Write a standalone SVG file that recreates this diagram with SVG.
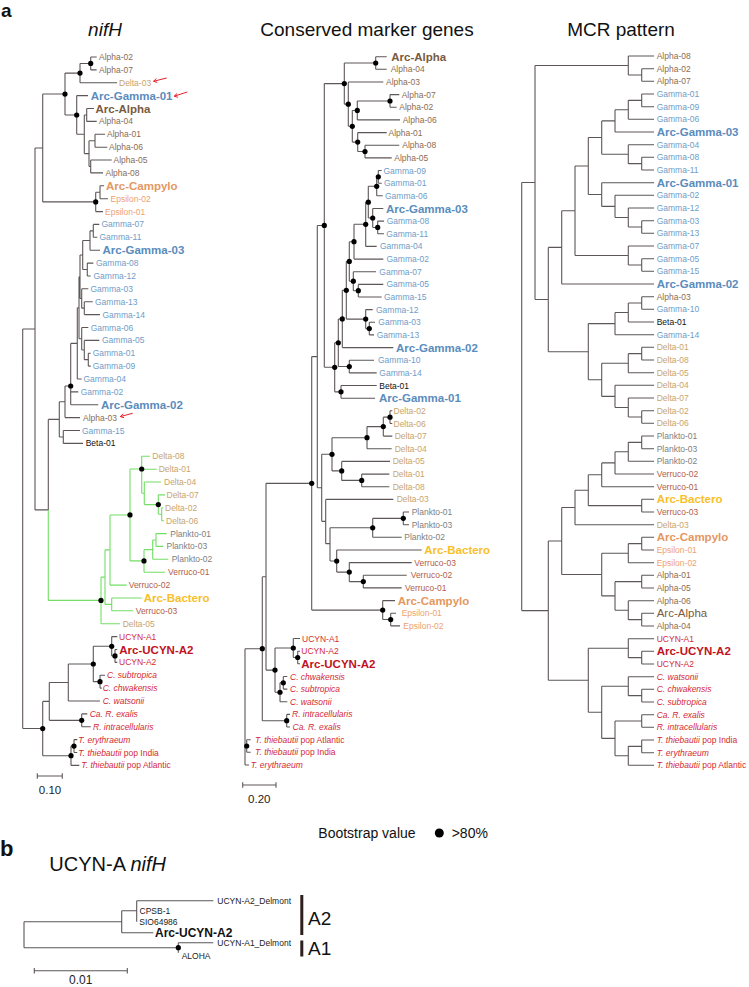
<svg xmlns="http://www.w3.org/2000/svg" width="749" height="987" viewBox="0 0 749 987">
<style>
text{font-family:"Liberation Sans",Arial,sans-serif;}
.t{font-size:8.5px;dominant-baseline:central}
.b{font-size:11.5px;font-weight:bold;dominant-baseline:central}
.r{font-size:11.5px;dominant-baseline:central}
.i{font-style:italic}
.br{fill:none;stroke:#5e5757;stroke-width:1.1}
.gn{fill:none;stroke:#74de66;stroke-width:1.1}
.dot{fill:#000}
.arr{fill:none;stroke:#e8202a;stroke-width:1}
.al{fill:#8d6c52}.alb{fill:#7a5a40}.de{fill:#c9a46c}.ga{fill:#6f9dc8}.gab{fill:#5a8cbc}
.ep{fill:#eda272}.epb{fill:#e4985f}.be{fill:#111}.pl{fill:#808080}.ve{fill:#b45d49}
.ba{fill:#f7c02a}.cy{fill:#d42a35}.cyb{fill:#c0121e}.k{fill:#222}
.title{font-size:19px;fill:#111;text-anchor:middle}
</style>
<rect width="749" height="987" fill="#fff"/>
<text x="1" y="17" style="font-size:19px;font-weight:bold" fill="#111">a</text>
<text x="105" y="35.5" class="title i">nifH</text>
<text x="367" y="35.5" class="title">Conserved marker genes</text>
<text x="621" y="35.5" class="title">MCR pattern</text>

<g id="connectors">
<g id="nifH-edges">
<path class="br" d="M22.7,328.95V728.55M22.7,328.95H35M22.7,728.55H42.7M35,148V509.9M35,148H42.7M35,509.9H48.3M42.7,94.05V201.9M42.7,94.05H65M42.7,201.9H95.7M65,73.1V115M65,73.1H80M65,115H76.7M80,63.45V82.8M80,63.45H90.7M80,82.8H117M90.7,57V69.9M90.7,57H96.7M90.7,69.9H96.7M76.7,95.6V134.3M76.7,95.6H88M76.7,134.3H84.3M84.3,115V153.6M84.3,115H86.7M84.3,153.6H89M86.7,108.5V121.4M86.7,108.5H94M86.7,121.4H96.7M89,140.75V166.45M89,140.75H95M89,166.45H90.7M95,134.3V147.2M95,134.3H105M95,147.2H107.3M90.7,160V172.9M90.7,160H111.7M90.7,172.9H103M95.7,192.25V211.6M95.7,192.25H100M95.7,211.6H103M100,185.8V198.7M100,185.8H104M100,198.7H108M48.3,419.4V509.9M48.3,419.4H59.3M59.3,401.8V436.95M59.3,401.8H65M59.3,436.95H63.3M63.3,430.5V443.4M63.3,430.5H80M63.3,443.4H83M65,386V417.6M65,386H70.7M65,417.6H80M70.7,343.4V404.8M70.7,343.4H77.3M70.7,391.9H78.3M70.7,404.8H98.3M77.3,307.75V379M77.3,307.75H79M77.3,379H81.7M79,276.75V338.75M79,276.75H80M79,338.75H81.7M80,255V298.5M80,255H82.7M80,298.5H81.7M82.7,240.5V269.55M82.7,240.5H90M82.7,269.55H87.3M90,230.85V250.2M90,230.85H93.3M90,250.2H100M93.3,224.4V237.3M93.3,224.4H99.3M93.3,237.3H97.3M87.3,263.1V276M87.3,263.1H93.3M87.3,276H90.7M81.7,288.8V308.15M81.7,288.8H88.3M81.7,308.15H84.3M84.3,301.7V314.6M84.3,301.7H92.7M84.3,314.6H100M81.7,327.5V350M81.7,327.5H88.3M81.7,350H84.3M84.3,340.4V359.65M84.3,340.4H99.3M84.3,359.65H88.3M88.3,353.2V366.1M88.3,353.2H90.7M88.3,366.1H90.7M42.7,701.4V755.7M42.7,701.4H49.3M42.7,755.7H71M49.3,682.5V720.35M49.3,682.5H68.3M49.3,720.35H81.7M68.3,664V701M68.3,664H93.3M68.3,701H100M93.3,646.3V681.65M93.3,646.3H111.7M93.3,681.65H100M111.7,636.6V655.95M111.7,636.6H117.3M111.7,655.95H115M115,649.5V662.4M115,649.5H117.3M115,662.4H117.3M100,675.2V688.1M100,675.2H105M100,688.1H101.7M81.7,713.9V726.8M81.7,713.9H87.3M81.7,726.8H90.7M71,746.05V765.4M71,746.05H74M71,765.4H79.3M74,739.6V752.5M74,739.6H77.3M74,752.5H77.3"/>
<path class="gn" d="M48.3,509.9V600.4M48.3,600.4H101M101,577.1V623.7M101,577.1H105M101,623.7H120M105,549.85V604.4M105,549.85H110M105,604.4H111.7M111.7,598V610.8M111.7,598H141.7M111.7,610.8H133.3M110,514.95V585.1M110,514.95H130M110,585.1H126.7M130,469V560.9M130,469H141.7M130,560.9H144M141.7,456.3V493.3M141.7,456.3H150M141.7,469.2H156.7M141.7,493.3H144.3M144.3,482V504.6M144.3,482H161M144.3,504.6H158.3M158.3,494.9V514.25M158.3,494.9H165M158.3,514.25H161.7M161.7,507.8V520.7M161.7,507.8H163.3M161.7,520.7H164M144,549.65V572.2M144,549.65H152.7M144,572.2H165M152.7,540V559.3M152.7,540H156M152.7,559.3H168.3M156,533.6V546.4M156,533.6H166.7M156,546.4H163.3"/>
<path class="br" d="M37.3,776H62.3M37.3,773.3V778.7M62.3,773.3V778.7"/>
<path class="arr" d="M166.7,78L153.5,81.3M153.5,81.3l3.8,1.1M153.5,81.3l2.9,-2.8M187.3,92L174.2,96.2M174.2,96.2l3.8,1.1M174.2,96.2l2.9,-2.8M132.7,413.3L120.3,416.6M120.3,416.6l3.8,1.1M120.3,416.6l2.9,-2.8"/>
</g>
<g id="marker-edges">
<path class="br" d="M245,648.7V765M245,648.7H262.3M245,746H246.7M245,765H249M246.7,739.7V752.3M246.7,739.7H250.7M246.7,752.3H250.7M262.3,576.7V720.7M262.3,576.7H266M262.3,720.7H286.7M266,483.35V670.1M266,483.35H311.7M266,670.1H275M311.7,356.6V610.1M311.7,356.6H317.3M311.7,610.1H382.7M317.3,225.45V487.8M317.3,225.45H324.3M317.3,487.8H321.7M324.3,83.6V367.3M324.3,83.6H344.3M324.3,367.3H334.7M344.3,63V104.15M344.3,63H375.7M344.3,104.15H348.3M375.7,56.7V69.3M375.7,56.7H386.7M375.7,69.3H386.7M348.3,82V126.3M348.3,82H383.3M348.3,126.3H352.3M352.3,110.45V142.1M352.3,110.45H357.3M352.3,142.1H357.7M357.3,101V119.9M357.3,101H390M357.3,119.9H400M390,94.6V107.3M390,94.6H399.3M390,107.3H396.7M357.7,132.6V151.55M357.7,132.6H386.7M357.7,151.55H365M365,145.2V157.9M365,145.2H399.3M365,157.9H391.7M334.7,342.75V391.85M334.7,342.75H338.3M334.7,391.85H341M338.3,318.95V366.55M338.3,318.95H342.3M338.3,366.55H349.3M342.3,290.3V347.6M342.3,290.3H346.3M342.3,347.6H393.3M346.3,261.45V319.1M346.3,261.45H349.3M346.3,319.1H365.7M349.3,241.7V281.2M349.3,241.7H354M349.3,281.2H353.3M354,224.3V259.1M354,224.3H365.7M354,259.1H383.3M365.7,202.15V246.4M365.7,202.15H368.3M365.7,246.4H376.7M368.3,186.3V218M368.3,186.3H376.7M368.3,218H372.7M376.7,176.85V195.8M376.7,176.85H378.3M376.7,195.8H382.7M378.3,170.5V183.2M378.3,170.5H381.7M378.3,183.2H381.7M372.7,208.5V227.45M372.7,208.5H383.3M372.7,227.45H377.7M377.7,221.1V233.8M377.7,221.1H384M377.7,233.8H384M353.3,271.7V290.7M353.3,271.7H376M353.3,290.7H358.3M358.3,284.4V297M358.3,284.4H383.3M358.3,297H381.7M365.7,309.6V328.6M365.7,309.6H372.7M365.7,328.6H369.3M369.3,322.3V334.9M369.3,322.3H375M369.3,334.9H374M349.3,360.2V372.9M349.3,360.2H374M349.3,372.9H376.7M341,385.5V398.2M341,385.5H376.7M341,398.2H375M321.7,454.3V521.35M321.7,454.3H332M321.7,521.35H325.7M332,437.7V470.9M332,437.7H367M332,470.9H341.7M367,426.6V448.8M367,426.6H383.3M367,448.8H391.7M383.3,417.15V436.1M383.3,417.15H390M383.3,436.1H392.3M390,410.8V423.5M390,410.8H392.3M390,423.5H392.3M341.7,461.4V480.4M341.7,461.4H390M341.7,480.4H361.7M361.7,474.1V486.7M361.7,474.1H389.3M361.7,486.7H389.3M325.7,499.4V543.65M325.7,499.4H393.3M325.7,543.65H330M330,527.8V561.05M330,527.8H372.7M330,561.05H336.7M372.7,518.35V537.3M372.7,518.35H403.3M372.7,537.3H401.7M403.3,512V524.7M403.3,512H409M403.3,524.7H409M336.7,550V572.1M336.7,550H421.7M336.7,572.1H349.3M349.3,562.6V581.6M349.3,562.6H411.7M349.3,581.6H363.3M363.3,575.3V587.9M363.3,575.3H406.7M363.3,587.9H401.7M382.7,600.6V619.55M382.7,600.6H395M382.7,619.55H390.7M390.7,613.2V625.9M390.7,613.2H396M390.7,625.9H400M275,648V692.25M275,648H293.3M275,692.25H280M293.3,638.5V657.5M293.3,638.5H300M293.3,657.5H297.7M297.7,651.2V663.8M297.7,651.2H300M297.7,663.8H300M280,682.8V701.7M280,682.8H283.3M280,701.7H287.3M283.3,676.5V689.1M283.3,676.5H287.3M283.3,689.1H287.3M286.7,714.4V727M286.7,714.4H290M286.7,727H290"/>
<path class="br" d="M242.7,785H276M242.7,782.3V787.7M276,782.3V787.7"/>
</g>
<g id="mcr-edges">
<path class="br" d="M521.7,182.5V610.6M521.7,182.5H535M521.7,610.6H548.3M535,65.5V299.55M535,65.5H628.3M535,299.55H548.3M628.3,56V75M628.3,56H654M628.3,75H641.7M641.7,68.7V81.3M641.7,68.7H654M641.7,81.3H654M548.3,247.4V351.7M548.3,247.4H561.7M548.3,351.7H588.3M561.7,210.8V284M561.7,210.8H575M561.7,284H654M575,166.05V255.5M575,166.05H588.3M575,255.5H628.3M588.3,137.55V194.55M588.3,137.55H601.7M588.3,194.55H601.7M601.7,120.9V154.2M601.7,120.9H615M601.7,154.2H628.3M615,109.8V132M615,109.8H628.3M615,132H654M628.3,100.35V119.3M628.3,100.35H641.7M628.3,119.3H654M641.7,94V106.7M641.7,94H654M641.7,106.7H654M628.3,144.7V163.65M628.3,144.7H654M628.3,163.65H641.7M641.7,157.3V170M641.7,157.3H654M641.7,170H654M601.7,182.7V206.4M601.7,182.7H654M601.7,206.4H615M615,195.3V217.5M615,195.3H654M615,217.5H628.3M628.3,208V227M628.3,208H654M628.3,227H641.7M641.7,220.7V233.3M641.7,220.7H654M641.7,233.3H654M628.3,246V265M628.3,246H654M628.3,265H641.7M641.7,258.7V271.3M641.7,258.7H654M641.7,271.3H654M588.3,323.6V379.8M588.3,323.6H615M588.3,379.8H601.7M615,312.5V334.7M615,312.5H628.3M615,334.7H654M628.3,303V322M628.3,303H641.7M628.3,322H654M641.7,296.7V309.3M641.7,296.7H654M641.7,309.3H654M601.7,363.2V396.4M601.7,363.2H628.3M601.7,396.4H615M628.3,353.65V372.7M628.3,353.65H641.7M628.3,372.7H654M641.7,347.3V360M641.7,347.3H654M641.7,360H654M615,385.3V407.5M615,385.3H654M615,407.5H628.3M628.3,398V417M628.3,398H654M628.3,417H641.7M641.7,410.7V423.3M641.7,410.7H654M641.7,423.3H654M548.3,541V680.25M548.3,541H561.7M548.3,680.25H588.3M561.7,507.45V574.55M561.7,507.45H575M561.7,574.55H601.7M575,490.2V524.7M575,490.2H588.3M575,524.7H654M588.3,474.8V505.65M588.3,474.8H601.7M588.3,505.65H641.7M601.7,462.9V486.7M601.7,462.9H615M601.7,486.7H654M615,451.8V474M615,451.8H628.3M615,474H654M628.3,442.35V461.3M628.3,442.35H641.7M628.3,461.3H654M641.7,436V448.7M641.7,436H654M641.7,448.7H654M641.7,499.3V512M641.7,499.3H654M641.7,512H654M601.7,553.2V595.9M601.7,553.2H628.3M601.7,595.9H615M628.3,543.65V562.7M628.3,543.65H641.7M628.3,562.7H654M641.7,537.3V550M641.7,537.3H654M641.7,550H654M615,581.65V610.2M615,581.65H641.7M615,610.2H628.3M641.7,575.3V588M641.7,575.3H654M641.7,588H654M628.3,600.7V619.65M628.3,600.7H654M628.3,619.65H641.7M641.7,613.3V626M641.7,613.3H654M641.7,626H654M588.3,648.2V712.3M588.3,648.2H628.3M588.3,712.3H601.7M628.3,638.7V657.65M628.3,638.7H654M628.3,657.65H641.7M641.7,651.3V664M641.7,651.3H654M641.7,664H654M601.7,686.2V738.4M601.7,686.2H628.3M601.7,738.4H615M628.3,676.7V695.65M628.3,676.7H654M628.3,695.65H641.7M641.7,689.3V702M641.7,689.3H654M641.7,702H654M615,721V755.8M615,721H641.7M615,755.8H628.3M641.7,714.7V727.3M641.7,714.7H654M641.7,727.3H654M628.3,746.35V765.3M628.3,746.35H641.7M628.3,765.3H654M641.7,740V752.7M641.7,740H654M641.7,752.7H654"/>
</g>
<g id="ucyn-edges">
<path class="br" d="M24,921.7V947.7M24,921.7H121.7M24,947.7H178.3M121.7,910.7V932.7M121.7,910.7H136.7M121.7,932.7H153.3M136.7,900.7V921.7M136.7,900.7H213.3M178.3,942.7V952.7M178.3,942.7H213.3"/>
<path class="br" d="M34.3,970.7H127.3M34.3,968V973.4M127.3,968V973.4"/>
</g>
</g>

<g id="bootstrap-dots" class="dot">
<circle cx="90.7" cy="63.45" r="2.6"/><circle cx="80" cy="73.1" r="2.6"/><circle cx="65" cy="94.05" r="2.6"/><circle cx="76.7" cy="115" r="2.6"/><circle cx="95.7" cy="201.9" r="2.6"/><circle cx="70.7" cy="386" r="2.6"/><circle cx="141.7" cy="469" r="2.6"/><circle cx="158.3" cy="504.6" r="2.6"/><circle cx="130" cy="514.95" r="2.6"/><circle cx="144" cy="560.9" r="2.6"/><circle cx="101" cy="600.4" r="2.6"/><circle cx="111.7" cy="646.3" r="2.6"/><circle cx="115" cy="655.95" r="2.6"/><circle cx="93.3" cy="664" r="2.6"/><circle cx="100" cy="681.65" r="2.6"/><circle cx="81.7" cy="720.35" r="2.6"/><circle cx="42.7" cy="728.55" r="2.6"/><circle cx="74" cy="746.05" r="2.6"/><circle cx="71" cy="755.7" r="2.6"/>
<circle cx="375.7" cy="63" r="2.6"/><circle cx="344.3" cy="83.6" r="2.6"/><circle cx="390" cy="101" r="2.6"/><circle cx="348.3" cy="104.15" r="2.6"/><circle cx="357.3" cy="110.45" r="2.6"/><circle cx="352.3" cy="126.3" r="2.6"/><circle cx="357.7" cy="142.1" r="2.6"/><circle cx="365" cy="151.55" r="2.6"/><circle cx="378.3" cy="176.85" r="2.6"/><circle cx="376.7" cy="186.3" r="2.6"/><circle cx="368.3" cy="202.15" r="2.6"/><circle cx="372.7" cy="218" r="2.6"/><circle cx="365.7" cy="224.3" r="2.6"/><circle cx="324.3" cy="225.45" r="2.6"/><circle cx="377.7" cy="227.45" r="2.6"/><circle cx="354" cy="241.7" r="2.6"/><circle cx="349.3" cy="261.45" r="2.6"/><circle cx="353.3" cy="281.2" r="2.6"/><circle cx="346.3" cy="290.3" r="2.6"/><circle cx="358.3" cy="290.7" r="2.6"/><circle cx="342.3" cy="318.95" r="2.6"/><circle cx="365.7" cy="319.1" r="2.6"/><circle cx="369.3" cy="328.6" r="2.6"/><circle cx="338.3" cy="342.75" r="2.6"/><circle cx="349.3" cy="366.55" r="2.6"/><circle cx="334.7" cy="367.3" r="2.6"/><circle cx="341" cy="391.85" r="2.6"/><circle cx="390" cy="417.15" r="2.6"/><circle cx="383.3" cy="426.6" r="2.6"/><circle cx="367" cy="437.7" r="2.6"/><circle cx="332" cy="454.3" r="2.6"/><circle cx="341.7" cy="470.9" r="2.6"/><circle cx="361.7" cy="480.4" r="2.6"/><circle cx="311.7" cy="483.35" r="2.6"/><circle cx="403.3" cy="518.35" r="2.6"/><circle cx="372.7" cy="527.8" r="2.6"/><circle cx="336.7" cy="561.05" r="2.6"/><circle cx="349.3" cy="572.1" r="2.6"/><circle cx="363.3" cy="581.6" r="2.6"/><circle cx="382.7" cy="610.1" r="2.6"/><circle cx="390.7" cy="619.55" r="2.6"/><circle cx="262.3" cy="648.7" r="2.6"/><circle cx="293.3" cy="648" r="2.6"/><circle cx="297.7" cy="657.5" r="2.6"/><circle cx="275" cy="670.1" r="2.6"/><circle cx="283.3" cy="682.8" r="2.6"/><circle cx="280" cy="692.25" r="2.6"/><circle cx="286.7" cy="720.7" r="2.6"/><circle cx="246.7" cy="746" r="2.6"/>
<circle cx="178.3" cy="947.7" r="2.6"/>
</g>

<g id="nifH-leaves">
<g id="nh01"><text class="t al" x="99" y="57">Alpha-02</text></g>
<g id="nh02"><text class="t al" x="99" y="69.9">Alpha-07</text></g>
<g id="nh03"><text class="t de" x="119" y="82.8">Delta-03</text></g>
<g id="nh04"><text class="b gab" x="90.7" y="95.6">Arc-Gamma-01</text></g>
<g id="nh05"><text class="b alb" x="95.5" y="108.5">Arc-Alpha</text></g>
<g id="nh06"><text class="t al" x="99" y="121.4">Alpha-04</text></g>
<g id="nh07"><text class="t al" x="107" y="134.3">Alpha-01</text></g>
<g id="nh08"><text class="t al" x="109" y="147.2">Alpha-06</text></g>
<g id="nh09"><text class="t al" x="113.5" y="160">Alpha-05</text></g>
<g id="nh10"><text class="t al" x="105.5" y="172.9">Alpha-08</text></g>
<g id="nh11"><text class="b epb" x="106" y="185.8">Arc-Campylo</text></g>
<g id="nh12"><text class="t ep" x="110.5" y="198.7">Epsilon-02</text></g>
<g id="nh13"><text class="t ep" x="105" y="211.6">Epsilon-01</text></g>
<g id="nh14"><text class="t ga" x="101.5" y="224.4">Gamma-07</text></g>
<g id="nh15"><text class="t ga" x="99.5" y="237.3">Gamma-11</text></g>
<g id="nh16"><text class="b gab" x="102.5" y="250.2">Arc-Gamma-03</text></g>
<g id="nh17"><text class="t ga" x="96" y="263.1">Gamma-08</text></g>
<g id="nh18"><text class="t ga" x="93.5" y="276">Gamma-12</text></g>
<g id="nh19"><text class="t ga" x="90.5" y="288.8">Gamma-03</text></g>
<g id="nh20"><text class="t ga" x="95" y="301.7">Gamma-13</text></g>
<g id="nh21"><text class="t ga" x="102.5" y="314.6">Gamma-14</text></g>
<g id="nh22"><text class="t ga" x="90.7" y="327.5">Gamma-06</text></g>
<g id="nh23"><text class="t ga" x="102" y="340.4">Gamma-05</text></g>
<g id="nh24"><text class="t ga" x="92.7" y="353.2">Gamma-01</text></g>
<g id="nh25"><text class="t ga" x="92.7" y="366.1">Gamma-09</text></g>
<g id="nh26"><text class="t ga" x="83.5" y="379">Gamma-04</text></g>
<g id="nh27"><text class="t ga" x="80.7" y="391.9">Gamma-02</text></g>
<g id="nh28"><text class="b gab" x="101" y="404.8">Arc-Gamma-02</text></g>
<g id="nh29"><text class="t al" x="83" y="417.6">Alpha-03</text></g>
<g id="nh30"><text class="t ga" x="82" y="430.5">Gamma-15</text></g>
<g id="nh31"><text class="t be" x="85.7" y="443.4">Beta-01</text></g>
<g id="nh32"><text class="t de" x="152.3" y="456.3">Delta-08</text></g>
<g id="nh33"><text class="t de" x="158.7" y="469.2">Delta-01</text></g>
<g id="nh34"><text class="t de" x="164" y="482">Delta-04</text></g>
<g id="nh35"><text class="t de" x="166.5" y="494.9">Delta-07</text></g>
<g id="nh36"><text class="t de" x="165" y="507.8">Delta-02</text></g>
<g id="nh37"><text class="t de" x="166" y="520.7">Delta-06</text></g>
<g id="nh38"><text class="t pl" x="170.3" y="533.6">Plankto-01</text></g>
<g id="nh39"><text class="t pl" x="166.5" y="546.4">Plankto-03</text></g>
<g id="nh40"><text class="t pl" x="171.7" y="559.3">Plankto-02</text></g>
<g id="nh41"><text class="t ve" x="168" y="572.2">Verruco-01</text></g>
<g id="nh42"><text class="t ve" x="128.7" y="585.1">Verruco-02</text></g>
<g id="nh43"><text class="b ba" x="143.7" y="598">Arc-Bactero</text></g>
<g id="nh44"><text class="t ve" x="135.7" y="610.8">Verruco-03</text></g>
<g id="nh45"><text class="t de" x="122.7" y="623.7">Delta-05</text></g>
<g id="nh46"><text class="t cy" x="119" y="636.6">UCYN-A1</text></g>
<g id="nh47"><text class="b cyb" x="119.3" y="649.5">Arc-UCYN-A2</text></g>
<g id="nh48"><text class="t cy" x="119" y="662.4">UCYN-A2</text></g>
<g id="nh49"><text class="t cy i" x="107" y="675.2">C. subtropica</text></g>
<g id="nh50"><text class="t cy i" x="102.7" y="688.1">C. chwakensis</text></g>
<g id="nh51"><text class="t cy i" x="102.7" y="701">C. watsonii</text></g>
<g id="nh52"><text class="t cy i" x="89.7" y="713.9">Ca. R. exalis</text></g>
<g id="nh53"><text class="t cy i" x="93" y="726.8">R. intracellularis</text></g>
<g id="nh54"><text class="t cy i" x="78.3" y="739.6">T. erythraeum</text></g>
<g id="nh55"><text class="t cy" x="78.3" y="752.5"><tspan class="i">T. thiebautii</tspan> pop India</text></g>
<g id="nh56"><text class="t cy" x="81.3" y="765.4"><tspan class="i">T. thiebautii</tspan> pop Atlantic</text></g>
<g id="nh-scale"><text x="50" y="793.5" style="font-size:11.5px;text-anchor:middle" fill="#222">0.10</text></g>
</g>

<g id="marker-leaves">
<g id="cm01"><text class="b alb" x="391.3" y="56.7">Arc-Alpha</text></g>
<g id="cm02"><text class="t al" x="390.7" y="69.3">Alpha-04</text></g>
<g id="cm03"><text class="t al" x="386" y="82">Alpha-03</text></g>
<g id="cm04"><text class="t al" x="401.7" y="94.6">Alpha-07</text></g>
<g id="cm05"><text class="t al" x="399.3" y="107.3">Alpha-02</text></g>
<g id="cm06"><text class="t al" x="402.7" y="119.9">Alpha-06</text></g>
<g id="cm07"><text class="t al" x="388.5" y="132.6">Alpha-01</text></g>
<g id="cm08"><text class="t al" x="402.3" y="145.2">Alpha-08</text></g>
<g id="cm09"><text class="t al" x="394.3" y="157.9">Alpha-05</text></g>
<g id="cm10"><text class="t ga" x="383.5" y="170.5">Gamma-09</text></g>
<g id="cm11"><text class="t ga" x="384" y="183.2">Gamma-01</text></g>
<g id="cm12"><text class="t ga" x="385" y="195.8">Gamma-06</text></g>
<g id="cm13"><text class="b gab" x="386" y="208.5">Arc-Gamma-03</text></g>
<g id="cm14"><text class="t ga" x="386.7" y="221.1">Gamma-08</text></g>
<g id="cm15"><text class="t ga" x="386.3" y="233.8">Gamma-11</text></g>
<g id="cm16"><text class="t ga" x="380" y="246.4">Gamma-04</text></g>
<g id="cm17"><text class="t ga" x="386.5" y="259.1">Gamma-02</text></g>
<g id="cm18"><text class="t ga" x="379.3" y="271.7">Gamma-07</text></g>
<g id="cm19"><text class="t ga" x="386.5" y="284.4">Gamma-05</text></g>
<g id="cm20"><text class="t ga" x="384" y="297">Gamma-15</text></g>
<g id="cm21"><text class="t ga" x="376" y="309.6">Gamma-12</text></g>
<g id="cm22"><text class="t ga" x="378.3" y="322.3">Gamma-03</text></g>
<g id="cm23"><text class="t ga" x="376.7" y="334.9">Gamma-13</text></g>
<g id="cm24"><text class="b gab" x="396" y="347.6">Arc-Gamma-02</text></g>
<g id="cm25"><text class="t ga" x="378" y="360.2">Gamma-10</text></g>
<g id="cm26"><text class="t ga" x="379.3" y="372.9">Gamma-14</text></g>
<g id="cm27"><text class="t be" x="379.3" y="385.5">Beta-01</text></g>
<g id="cm28"><text class="b gab" x="379" y="398.2">Arc-Gamma-01</text></g>
<g id="cm29"><text class="t de" x="393.5" y="410.8">Delta-02</text></g>
<g id="cm30"><text class="t de" x="393.5" y="423.5">Delta-06</text></g>
<g id="cm31"><text class="t de" x="394.7" y="436.1">Delta-07</text></g>
<g id="cm32"><text class="t de" x="394.7" y="448.8">Delta-04</text></g>
<g id="cm33"><text class="t de" x="392.7" y="461.4">Delta-05</text></g>
<g id="cm34"><text class="t de" x="392.7" y="474.1">Delta-01</text></g>
<g id="cm35"><text class="t de" x="392.7" y="486.7">Delta-08</text></g>
<g id="cm36"><text class="t de" x="396.7" y="499.4">Delta-03</text></g>
<g id="cm37"><text class="t pl" x="411.7" y="512">Plankto-01</text></g>
<g id="cm38"><text class="t pl" x="411.7" y="524.7">Plankto-03</text></g>
<g id="cm39"><text class="t pl" x="404.3" y="537.3">Plankto-02</text></g>
<g id="cm40"><text class="b ba" x="424.3" y="550">Arc-Bactero</text></g>
<g id="cm41"><text class="t ve" x="414.3" y="562.6">Verruco-03</text></g>
<g id="cm42"><text class="t ve" x="410.7" y="575.3">Verruco-02</text></g>
<g id="cm43"><text class="t ve" x="405" y="587.9">Verruco-01</text></g>
<g id="cm44"><text class="b epb" x="397.7" y="600.6">Arc-Campylo</text></g>
<g id="cm45"><text class="t ep" x="401.7" y="613.2">Epsilon-01</text></g>
<g id="cm46"><text class="t ep" x="403.3" y="625.9">Epsilon-02</text></g>
<g id="cm47"><text class="t cy" x="302" y="638.5">UCYN-A1</text></g>
<g id="cm48"><text class="t cy" x="301.3" y="651.2">UCYN-A2</text></g>
<g id="cm49"><text class="b cyb" x="301.3" y="663.8">Arc-UCYN-A2</text></g>
<g id="cm50"><text class="t cy i" x="290" y="676.5">C. chwakensis</text></g>
<g id="cm51"><text class="t cy i" x="290" y="689.1">C. subtropica</text></g>
<g id="cm52"><text class="t cy i" x="290" y="701.7">C. watsonii</text></g>
<g id="cm53"><text class="t cy i" x="292" y="714.4">R. intracellularis</text></g>
<g id="cm54"><text class="t cy i" x="292.5" y="727">Ca. R. exalis</text></g>
<g id="cm55"><text class="t cy" x="255" y="739.7"><tspan class="i">T. thiebautii</tspan> pop Atlantic</text></g>
<g id="cm56"><text class="t cy" x="255" y="752.3"><tspan class="i">T. thiebautii</tspan> pop India</text></g>
<g id="cm57"><text class="t cy i" x="250.7" y="765">T. erythraeum</text></g>
<g id="cm-scale"><text x="259.3" y="802.5" style="font-size:11.5px;text-anchor:middle" fill="#222">0.20</text></g>
</g>

<g id="mcr-leaves">
<g id="mc01"><text class="t al" x="656.7" y="56">Alpha-08</text></g>
<g id="mc02"><text class="t al" x="656.7" y="68.7">Alpha-02</text></g>
<g id="mc03"><text class="t al" x="656.7" y="81.3">Alpha-07</text></g>
<g id="mc04"><text class="t ga" x="656.7" y="94">Gamma-01</text></g>
<g id="mc05"><text class="t ga" x="656.7" y="106.7">Gamma-09</text></g>
<g id="mc06"><text class="t ga" x="656.7" y="119.3">Gamma-06</text></g>
<g id="mc07"><text class="b gab" x="656.7" y="132">Arc-Gamma-03</text></g>
<g id="mc08"><text class="t ga" x="656.7" y="144.7">Gamma-04</text></g>
<g id="mc09"><text class="t ga" x="656.7" y="157.3">Gamma-08</text></g>
<g id="mc10"><text class="t ga" x="656.7" y="170">Gamma-11</text></g>
<g id="mc11"><text class="b gab" x="656.7" y="182.7">Arc-Gamma-01</text></g>
<g id="mc12"><text class="t ga" x="656.7" y="195.3">Gamma-02</text></g>
<g id="mc13"><text class="t ga" x="656.7" y="208">Gamma-12</text></g>
<g id="mc14"><text class="t ga" x="656.7" y="220.7">Gamma-03</text></g>
<g id="mc15"><text class="t ga" x="656.7" y="233.3">Gamma-13</text></g>
<g id="mc16"><text class="t ga" x="656.7" y="246">Gamma-07</text></g>
<g id="mc17"><text class="t ga" x="656.7" y="258.7">Gamma-05</text></g>
<g id="mc18"><text class="t ga" x="656.7" y="271.3">Gamma-15</text></g>
<g id="mc19"><text class="b gab" x="656.7" y="284">Arc-Gamma-02</text></g>
<g id="mc20"><text class="t al" x="656.7" y="296.7">Alpha-03</text></g>
<g id="mc21"><text class="t ga" x="656.7" y="309.3">Gamma-10</text></g>
<g id="mc22"><text class="t be" x="656.7" y="322">Beta-01</text></g>
<g id="mc23"><text class="t ga" x="656.7" y="334.7">Gamma-14</text></g>
<g id="mc24"><text class="t de" x="656.7" y="347.3">Delta-01</text></g>
<g id="mc25"><text class="t de" x="656.7" y="360">Delta-08</text></g>
<g id="mc26"><text class="t de" x="656.7" y="372.7">Delta-05</text></g>
<g id="mc27"><text class="t de" x="656.7" y="385.3">Delta-04</text></g>
<g id="mc28"><text class="t de" x="656.7" y="398">Delta-07</text></g>
<g id="mc29"><text class="t de" x="656.7" y="410.7">Delta-02</text></g>
<g id="mc30"><text class="t de" x="656.7" y="423.3">Delta-06</text></g>
<g id="mc31"><text class="t pl" x="656.7" y="436">Plankto-01</text></g>
<g id="mc32"><text class="t pl" x="656.7" y="448.7">Plankto-03</text></g>
<g id="mc33"><text class="t pl" x="656.7" y="461.3">Plankto-02</text></g>
<g id="mc34"><text class="t ve" x="656.7" y="474">Verruco-02</text></g>
<g id="mc35"><text class="t ve" x="656.7" y="486.7">Verruco-01</text></g>
<g id="mc36"><text class="b ba" x="656.7" y="499.3">Arc-Bactero</text></g>
<g id="mc37"><text class="t ve" x="656.7" y="512">Verruco-03</text></g>
<g id="mc38"><text class="t de" x="656.7" y="524.7">Delta-03</text></g>
<g id="mc39"><text class="b epb" x="656.7" y="537.3">Arc-Campylo</text></g>
<g id="mc40"><text class="t ep" x="656.7" y="550">Epsilon-01</text></g>
<g id="mc41"><text class="t ep" x="656.7" y="562.7">Epsilon-02</text></g>
<g id="mc42"><text class="t al" x="656.7" y="575.3">Alpha-01</text></g>
<g id="mc43"><text class="t al" x="656.7" y="588">Alpha-05</text></g>
<g id="mc44"><text class="t al" x="656.7" y="600.7">Alpha-06</text></g>
<g id="mc45"><text class="r alb" x="656.7" y="613.3">Arc-Alpha</text></g>
<g id="mc46"><text class="t al" x="656.7" y="626">Alpha-04</text></g>
<g id="mc47"><text class="t cy" x="656.7" y="638.7">UCYN-A1</text></g>
<g id="mc48"><text class="b cyb" x="656.7" y="651.3">Arc-UCYN-A2</text></g>
<g id="mc49"><text class="t cy" x="656.7" y="664">UCYN-A2</text></g>
<g id="mc50"><text class="t cy i" x="656.7" y="676.7">C. watsonii</text></g>
<g id="mc51"><text class="t cy i" x="656.7" y="689.3">C. chwakensis</text></g>
<g id="mc52"><text class="t cy i" x="656.7" y="702">C. subtropica</text></g>
<g id="mc53"><text class="t cy i" x="656.7" y="714.7">Ca. R. exalis</text></g>
<g id="mc54"><text class="t cy i" x="656.7" y="727.3">R. intracellularis</text></g>
<g id="mc55"><text class="t cy" x="656.7" y="740"><tspan class="i">T. thiebautii</tspan> pop India</text></g>
<g id="mc56"><text class="t cy i" x="656.7" y="752.7">T. erythraeum</text></g>
<g id="mc57"><text class="t cy" x="656.7" y="765.3"><tspan class="i">T. thiebautii</tspan> pop Atlantic</text></g>
</g>

<g id="legend">
<text x="318.3" y="838" style="font-size:14px" fill="#111">Bootstrap value</text>
<circle cx="439.3" cy="833" r="4.5" fill="#000"/>
<text x="451.7" y="838" style="font-size:14px" fill="#111">&gt;80%</text>
</g>

<g id="panel-b">
<text x="0" y="855.5" style="font-size:22px;font-weight:bold" fill="#111">b</text>
<text x="49.3" y="871" style="font-size:20px" fill="#111">UCYN-A <tspan class="i">nifH</tspan></text>
<g id="ub1"><text class="t k" x="217.3" y="900.7">UCYN-A2_Delmont</text></g>
<g id="ub2"><text class="t k" x="139.5" y="910.7">CPSB-1</text></g>
<g id="ub3"><text class="t k" x="139.3" y="921.7">SIO64986</text></g>
<g id="ub4"><text x="155" y="932.7" style="font-size:12px;font-weight:bold;dominant-baseline:central" fill="#111">Arc-UCYN-A2</text></g>
<g id="ub5"><text class="t k" x="217.3" y="942.7">UCYN-A1_Delmont</text></g>
<g id="ub6"><text class="t k" x="181.7" y="956.2">ALOHA</text></g>
<g id="clade-A2"><rect x="300.3" y="895" width="3" height="40" fill="#2e1f1f"/><text x="308" y="925" style="font-size:19px" fill="#111">A2</text></g>
<g id="clade-A1"><rect x="300.3" y="940.5" width="3" height="16" fill="#2e1f1f"/><text x="308" y="955" style="font-size:19px" fill="#111">A1</text></g>
<text x="80.7" y="984" style="font-size:12px;text-anchor:middle" fill="#222">0.01</text>
</g>
</svg>
